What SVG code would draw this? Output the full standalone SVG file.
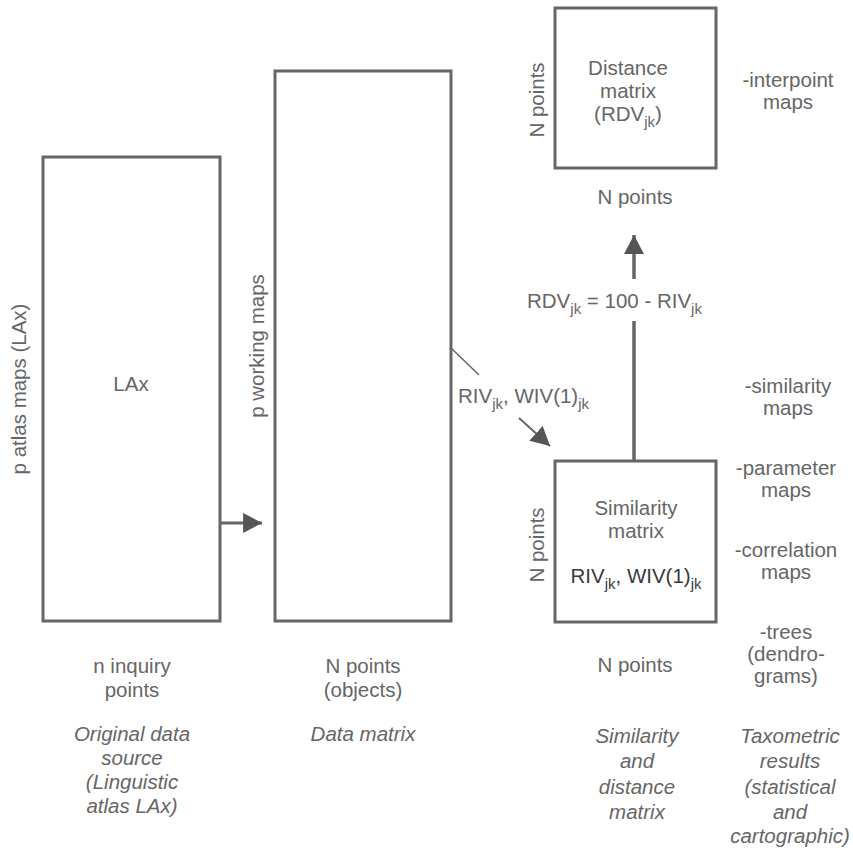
<svg xmlns="http://www.w3.org/2000/svg" width="853" height="851" viewBox="0 0 853 851">
<defs>
<style>
.box{fill:#fff;stroke:#666;stroke-width:3}
.t{font-family:"Liberation Sans",Arial,sans-serif;font-size:20.5px;fill:#666;text-anchor:middle}
.s{text-anchor:start}
.i{font-style:italic}
.sub{font-size:15px}
.dark{fill:#3a3a3a}
.ln{stroke:#666;fill:none}
</style>
<marker id="ah" markerUnits="userSpaceOnUse" markerWidth="20" markerHeight="20" refX="17" refY="9" orient="auto" viewBox="0 0 18 18">
<path d="M0,0 L17,9 L0,18 z" fill="#555"/>
</marker>
</defs>
<rect width="853" height="851" fill="#fff"/>

<g id="connectors">
<line class="ln" x1="220" y1="523" x2="262" y2="523" stroke-width="3" marker-end="url(#ah)"/>
<line class="ln" x1="451" y1="348" x2="479" y2="375" stroke-width="1.5"/>
<line class="ln" x1="519" y1="418" x2="550" y2="446" stroke-width="2" marker-end="url(#ah)"/>
<line class="ln" x1="634" y1="461" x2="634" y2="321" stroke-width="3.5"/>
<line class="ln" x1="634" y1="279" x2="634" y2="235" stroke-width="3.5" marker-end="url(#ah)"/>
<text class="t s" x="458" y="403">RIV<tspan class="sub" dy="6">jk</tspan><tspan dy="-6">, WIV(1)</tspan><tspan class="sub" dy="6">jk</tspan></text>
<text class="t s" x="527" y="308">RDV<tspan class="sub" dy="6">jk</tspan><tspan dy="-6"> = 100 - RIV</tspan><tspan class="sub" dy="6">jk</tspan></text>
</g>

<g id="lax">
<rect class="box" x="43" y="157" width="177" height="464"/>
<text class="t" x="131" y="391">LAx</text>
<text class="t" transform="translate(26,389) rotate(-90)">p atlas maps (LAx)</text>
<text class="t" x="132" y="673">n inquiry</text>
<text class="t" x="132" y="697">points</text>
<text class="t i" x="132" y="741">Original data</text>
<text class="t i" x="132" y="765">source</text>
<text class="t i" x="132" y="789">(Linguistic</text>
<text class="t i" x="132" y="813">atlas LAx)</text>
</g>

<g id="data-matrix">
<rect class="box" x="275" y="71" width="176" height="550"/>
<text class="t" transform="translate(264,346) rotate(-90)">p working maps</text>
<text class="t" x="363" y="673">N points</text>
<text class="t" x="363" y="697">(objects)</text>
<text class="t i" x="363" y="741">Data matrix</text>
</g>

<g id="distance-matrix">
<rect class="box" x="555" y="8" width="161" height="160" stroke-width="2.5"/>
<text class="t" x="628" y="75">Distance</text>
<text class="t" x="628" y="98">matrix</text>
<text class="t" x="628" y="121">(RDV<tspan class="sub" dy="6">jk</tspan><tspan dy="-6">)</tspan></text>
<text class="t" transform="translate(544,100) rotate(-90)">N points</text>
<text class="t" x="635" y="204">N points</text>
<text class="t" x="788" y="87">-interpoint</text>
<text class="t" x="788" y="109">maps</text>
</g>

<g id="similarity-matrix">
<rect class="box" x="555" y="461" width="161" height="161" stroke-width="2.5"/>
<text class="t" x="636" y="515">Similarity</text>
<text class="t" x="636" y="538">matrix</text>
<text class="t dark" x="636" y="583">RIV<tspan class="sub" dy="6">jk</tspan><tspan dy="-6">, WIV(1)</tspan><tspan class="sub" dy="6">jk</tspan></text>
<text class="t" transform="translate(544,545) rotate(-90)">N points</text>
<text class="t" x="635" y="672">N points</text>
<text class="t i" x="637" y="743">Similarity</text>
<text class="t i" x="637" y="768">and</text>
<text class="t i" x="637" y="794">distance</text>
<text class="t i" x="637" y="819">matrix</text>
</g>

<g id="results">
<text class="t" x="788" y="393">-similarity</text>
<text class="t" x="788" y="415">maps</text>
<text class="t" x="786" y="475">-parameter</text>
<text class="t" x="786" y="497">maps</text>
<text class="t" x="786" y="557">-correlation</text>
<text class="t" x="786" y="579">maps</text>
<text class="t" x="786" y="639">-trees</text>
<text class="t" x="786" y="661">(dendro-</text>
<text class="t" x="786" y="683">grams)</text>
<text class="t i" x="790" y="743">Taxometric</text>
<text class="t i" x="790" y="768">results</text>
<text class="t i" x="790" y="794">(statistical</text>
<text class="t i" x="790" y="819">and</text>
<text class="t i" x="790" y="843">cartographic)</text>
</g>
</svg>
